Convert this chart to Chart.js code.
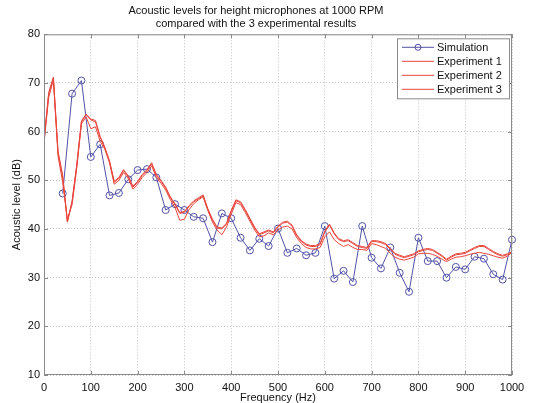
<!DOCTYPE html>
<html>
<head>
<meta charset="utf-8">
<script src="https://cdn.jsdelivr.net/npm/chart.js@4.4.1/dist/chart.umd.min.js"></script>
<style>
  html, body { margin: 0; padding: 0; background: #fff; }
  #wrap { width: 533px; height: 403px; }
</style>
</head>
<body>
<div id="wrap"><canvas id="acoustic" width="533" height="403"></canvas></div>
<script>
// simulation, one point every 20 Hz
const simFreq = [40, 60, 80, 100, 120, 140, 160, 180, 200, 220, 240, 260, 280, 300, 320, 340, 360, 380, 400, 420,
    440, 460, 480, 500, 520, 540, 560, 580, 600, 620, 640, 660, 680, 700, 720, 740, 760, 780, 800, 820,
    840, 860, 880, 900, 920, 940, 960, 980, 1000];
const simLevel = [47.3, 67.8, 70.5, 54.8, 57.4, 46.9, 47.4, 50.2, 52.1, 52.3, 50.6, 43.9, 45.1, 43.9, 42.5, 42.2, 37.3, 43.2, 42.2, 38.2,
    35.6, 38.0, 36.5, 40.1, 35.1, 36.0, 34.6, 35.1, 40.6, 29.8, 31.4, 29.1, 40.6, 34.1, 31.9, 36.2, 31.0, 27.1, 38.2, 33.4,
    33.4, 30.0, 32.2, 31.7, 34.3, 33.9, 30.7, 29.6, 37.8];

// measurements, every 10 Hz
const expFreq = [0, 10, 20, 30, 40, 50, 60, 70, 80, 90, 100, 110, 120, 130, 140, 150, 160, 170, 180, 190,
    200, 210, 220, 230, 240, 250, 260, 270, 280, 290, 300, 310, 320, 330, 340, 350, 360, 370, 380, 390,
    400, 410, 420, 430, 440, 450, 460, 470, 480, 490, 500, 510, 520, 530, 540, 550, 560, 570, 580, 590,
    600, 610, 620, 630, 640, 650, 660, 670, 680, 690, 700, 710, 720, 730, 740, 750, 760, 770, 780, 790,
    800, 810, 820, 830, 840, 850, 860, 870, 880, 890, 900, 910, 920, 930, 940, 950, 960, 970, 980, 990, 1000];
const exp1 = [58.0, 67.8, 71.0, 56.0, 51.0, 41.5, 45.5, 53.0, 62.0, 63.5,
    62.6, 62.3, 59.0, 56.8, 54.0, 49.8, 50.6, 52.2, 50.9, 48.8,
    49.8, 51.2, 52.2, 53.6, 51.2, 50.0, 48.6, 46.6, 45.2, 43.4,
    43.6, 44.8, 45.8, 46.4, 47.0, 44.2, 42.0, 40.4, 40.2, 41.2,
    43.8, 46.0, 45.6, 44.0, 42.2, 40.4, 39.0, 39.4, 39.8, 39.4,
    40.6, 41.4, 41.6, 40.8, 38.8, 37.6, 36.9, 36.6, 36.6, 37.0,
    39.6, 41.0, 39.2, 38.0, 37.6, 37.8, 37.2, 36.6, 36.4, 36.2,
    37.6, 37.6, 37.4, 37.0, 36.0, 35.0, 34.6, 34.3, 34.6, 34.9,
    35.5, 35.8, 36.0, 35.8, 35.2, 34.6, 33.8, 34.4, 34.9, 35.0,
    35.2, 35.7, 36.2, 36.6, 36.6, 36.0, 35.4, 34.9, 34.6, 34.9, 35.3];
const exp2 = [57.6, 67.0, 70.6, 55.0, 49.5, 42.0, 45.0, 52.5, 61.6, 63.0,
    60.6, 61.0, 58.0, 56.4, 53.6, 49.2, 50.0, 51.6, 50.4, 48.2,
    49.2, 50.6, 51.6, 53.0, 50.6, 49.4, 48.0, 46.0, 44.4, 41.8,
    42.0, 44.0, 45.2, 46.0, 46.6, 43.8, 41.4, 39.8, 38.8, 40.4,
    43.0, 45.4, 45.0, 43.4, 41.6, 39.8, 38.4, 38.6, 39.2, 38.8,
    39.8, 40.4, 40.6, 40.0, 38.2, 37.0, 36.2, 35.9, 35.9, 36.2,
    38.4, 39.4, 37.8, 37.0, 36.4, 36.8, 36.2, 35.8, 35.8, 35.6,
    37.0, 36.8, 36.4, 36.0, 35.0, 34.2, 33.8, 33.6, 33.9, 34.2,
    34.9, 35.0, 35.0, 34.8, 34.4, 33.8, 33.3, 33.8, 34.2, 34.3,
    34.5, 34.8, 35.0, 35.2, 35.0, 34.8, 34.5, 34.2, 34.0, 34.4, 35.2];
const exp3 = [58.2, 68.0, 71.2, 55.6, 50.6, 41.4, 45.8, 53.2, 62.2, 63.6,
    62.4, 62.0, 58.8, 56.6, 53.8, 49.6, 50.4, 52.0, 50.8, 48.6,
    49.6, 51.0, 52.0, 53.4, 51.0, 49.8, 48.4, 46.4, 45.0, 43.2,
    43.4, 44.6, 45.6, 46.2, 46.8, 44.0, 41.8, 40.2, 40.0, 41.0,
    43.6, 45.8, 45.4, 43.8, 42.0, 40.2, 38.8, 39.2, 39.6, 39.2,
    40.4, 41.2, 41.4, 40.6, 38.6, 37.4, 36.7, 36.4, 36.4, 36.8,
    39.4, 40.8, 39.0, 37.8, 37.4, 37.6, 37.0, 36.4, 36.2, 36.0,
    37.4, 37.4, 37.2, 36.8, 35.8, 34.8, 34.4, 34.1, 34.4, 34.7,
    35.3, 35.6, 35.8, 35.6, 35.0, 34.4, 33.6, 34.2, 34.7, 34.8,
    35.0, 35.5, 36.0, 36.4, 36.4, 35.8, 35.2, 34.7, 34.4, 34.7, 35.1];

const seriesNames = ["Simulation", "Experiment 1", "Experiment 2", "Experiment 3"];
const titleLines = ["Acoustic levels for height microphones at 1000 RPM", "compared with the 3 experimental results"];

const FONT = "'Liberation Sans', Arial, sans-serif";
const BLUE = "#5252a6";
const RED = "#e8473d";

function pairs(xs, ys) {
    return xs.map((x, i) => ({ x: x, y: ys[i] }));
}

// matlab style box + inward ticks
const boxPlugin = {
    id: "box",
    afterDraw(chart) {
        const { ctx, chartArea: a, scales } = chart;
        ctx.save();
        ctx.strokeStyle = "#8a8a8a";
        ctx.lineWidth = 1;
        ctx.strokeRect(a.left + 0.5, a.top + 0.5, a.right - a.left - 1, a.bottom - a.top - 1);
        ctx.beginPath();
        scales.x.ticks.forEach(t => {
            const px = Math.round(scales.x.getPixelForValue(t.value)) + 0.5;
            ctx.moveTo(px, a.bottom); ctx.lineTo(px, a.bottom - 4);
            ctx.moveTo(px, a.top); ctx.lineTo(px, a.top + 4);
        });
        scales.y.ticks.forEach(t => {
            const py = Math.round(scales.y.getPixelForValue(t.value)) + 0.5;
            ctx.moveTo(a.left, py); ctx.lineTo(a.left + 4, py);
            ctx.moveTo(a.right, py); ctx.lineTo(a.right - 4, py);
        });
        ctx.stroke();
        ctx.restore();
    }
};

// legend box in the top right corner of the axes
const legendPlugin = {
    id: "boxLegend",
    afterDraw(chart) {
        const { ctx, chartArea: a } = chart;
        const w = 112, rowH = 14;
        const x0 = a.right - w - 3, y0 = a.top + 4;
        const h = rowH * chart.data.datasets.length + 4;
        ctx.save();
        ctx.fillStyle = "#fff";
        ctx.fillRect(x0, y0, w, h);
        ctx.strokeStyle = "#8a8a8a";
        ctx.lineWidth = 1;
        ctx.strokeRect(x0 + 0.5, y0 + 0.5, w, h);
        ctx.font = "11px " + FONT;
        ctx.textBaseline = "middle";
        chart.data.datasets.forEach((ds, i) => {
            const cy = y0 + 9 + i * rowH;
            ctx.strokeStyle = ds.borderColor;
            ctx.lineWidth = 1;
            ctx.beginPath();
            ctx.moveTo(x0 + 5, cy); ctx.lineTo(x0 + 37, cy);
            ctx.stroke();
            if (ds.pointRadius > 0) {
                ctx.beginPath();
                ctx.arc(x0 + 21, cy, 3, 0, Math.PI * 2);
                ctx.stroke();
            }
            ctx.fillStyle = "#111";
            ctx.fillText(ds.label, x0 + 40, cy + 0.5);
        });
        ctx.restore();
    }
};

const ctx = document.getElementById("acoustic").getContext("2d");

const chart = new Chart(ctx, {
    type: "line",
    data: {
        datasets: [
            { label: seriesNames[0], data: pairs(simFreq, simLevel), borderColor: BLUE, borderWidth: 1,
              pointRadius: 3.5, pointBorderColor: BLUE, pointBackgroundColor: "rgba(0,0,0,0)", pointBorderWidth: 1,
              clip: 6, order: 4 },
            { label: seriesNames[1], data: pairs(expFreq, exp1), borderColor: RED, borderWidth: 1, pointRadius: 0, order: 3 },
            { label: seriesNames[2], data: pairs(expFreq, exp2), borderColor: RED, borderWidth: 1, pointRadius: 0, order: 2 },
            { label: seriesNames[3], data: pairs(expFreq, exp3), borderColor: RED, borderWidth: 1, pointRadius: 0, order: 1 }
        ]
    },
    options: {
        responsive: false,
        animation: false,
        devicePixelRatio: 1,
        layout: { padding: { left: 0, right: 21, top: 0, bottom: 0 } },
        plugins: {
            legend: { display: false },
            tooltip: { enabled: false },
            title: {
                display: true,
                text: titleLines,
                color: "#111",
                font: { family: FONT, size: 11, weight: "normal", lineHeight: 1.15 },
                padding: { top: 5, bottom: 4 }
            }
        },
        scales: {
            x: {
                type: "linear",
                min: 0, max: 1000,
                afterFit(scale) { scale.height = 28; },
                ticks: { stepSize: 100, color: "#111", padding: 6, maxRotation: 0,
                         callback: v => String(v),
                         font: { family: FONT, size: 11 } },
                grid: { color: "#c4c4c4", drawTicks: false },
                border: { display: false, dash: [1, 2] },
                title: { display: true, text: "Frequency (Hz)", color: "#111", padding: { top: 0, bottom: 0 },
                         font: { family: FONT, size: 11, lineHeight: 1 } }
            },
            y: {
                min: 10, max: 80,
                afterFit(scale) { scale.width = 44; },
                ticks: { stepSize: 10, color: "#111", padding: 4,
                         font: { family: FONT, size: 11 } },
                grid: { color: "#c4c4c4", drawTicks: false },
                border: { display: false, dash: [1, 2] },
                title: { display: true, text: "Acoustic level (dB)", color: "#111", padding: { top: 10, bottom: 0 },
                         font: { family: FONT, size: 11 } }
            }
        }
    },
    plugins: [boxPlugin, legendPlugin]
});
</script>
</body>
</html>
